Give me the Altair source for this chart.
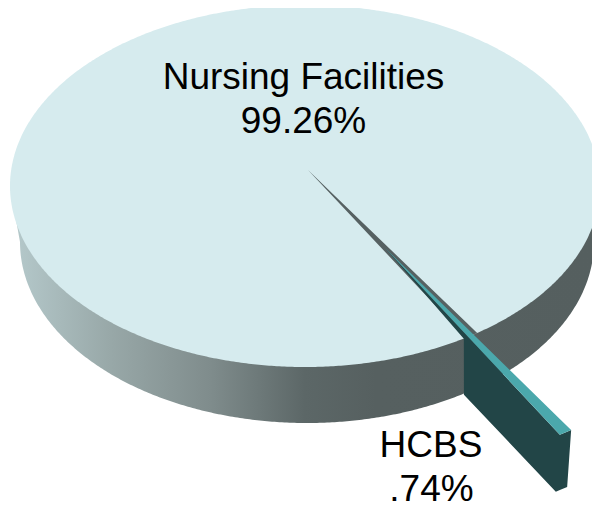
import numpy as np
import pandas as pd
import altair as alt

# --- chart values ---
categories = ["Nursing Facilities", "HCBS"]
shares = [99.26, 0.74]
share_labels = ["99.26%", ".74%"]

# --- drawing frame: data units are page pixels of the 3-D pie ---
TOP = dict(cx=305.0, cy=186.0, rx=295.0, ry=181.0)      # upper face
BASE = dict(cx=307.0, cy=242.0, rx=287.0, ry=181.0)     # lower rim
APEX = (308.0, 170.0)
START_DEG = 54.3                                        # where the small slice begins on the rim
EXPLODE = (94.0, 97.0)
WEDGE_TIP = (385.0, 248.0)
DEPTH = (-4.0, 57.0)

X_SCALE = alt.Scale(domain=[8, 592], nice=False, zero=False)
Y_SCALE = alt.Scale(domain=[505, 8], nice=False, zero=False)


def rim(deg):
    t = np.radians(deg)
    return (TOP["cx"] + TOP["rx"] * np.cos(t), TOP["cy"] + TOP["ry"] * np.sin(t))


def band(upper, lower):
    """Rows x / y / y2 of a filled shape between two x-ordered outlines."""
    ux, uy = zip(*upper)
    lx, ly = zip(*lower)
    xs = sorted(set(ux) | set(lx))
    return pd.DataFrame({"x": xs, "y": np.interp(xs, ux, uy), "y2": np.interp(xs, lx, ly)})


def area(df, fill):
    return alt.Chart(df).mark_area(fill=fill, strokeWidth=0, opacity=1).encode(
        x=alt.X("x:Q", scale=X_SCALE, axis=None),
        y=alt.Y("y:Q", scale=Y_SCALE, axis=None),
        y2="y2:Q",
    )


# pie wall
tt = np.radians(np.linspace(0, 180, 361))
base_x = BASE["cx"] + BASE["rx"] * np.cos(tt)
base_y = BASE["cy"] + BASE["ry"] * np.sin(tt)
outline = sorted(
    [(TOP["cx"] - TOP["rx"], TOP["cy"])]
    + list(zip(base_x, base_y))
    + [(TOP["cx"] + TOP["rx"], TOP["cy"])]
)
wall_df = band([(outline[0][0], TOP["cy"]), (outline[-1][0], TOP["cy"])], outline)
wall_fill = alt.Gradient(
    gradient="linear", x1=0, y1=0, x2=1, y2=0,
    stops=[
        alt.GradientStop(offset=0.0, color="#b6cacc"),
        alt.GradientStop(offset=0.17, color="#98a8a8"),
        alt.GradientStop(offset=0.34, color="#7f8c8c"),
        alt.GradientStop(offset=0.50, color="#5c6767"),
        alt.GradientStop(offset=0.62, color="#566060"),
        alt.GradientStop(offset=1.0, color="#555f5f"),
    ],
)

# pie upper face
top_x = TOP["cx"] + TOP["rx"] * np.cos(tt)
top_df = pd.DataFrame({
    "x": top_x,
    "y": TOP["cy"] - TOP["ry"] * np.sin(tt),
    "y2": TOP["cy"] + TOP["ry"] * np.sin(tt),
})

# small slice, its size taken from the share
sweep = shares[1] / sum(shares) * 360.0
rim_a = rim(START_DEG)
rim_b = rim(START_DEG + sweep)
gap_df = band([APEX, rim_a], [APEX, rim_b, rim_a])

out_a = (rim_a[0] + EXPLODE[0], rim_a[1] + EXPLODE[1])
out_b = (rim_b[0] + EXPLODE[0], rim_b[1] + EXPLODE[1])
teal_df = band([WEDGE_TIP, out_a], [WEDGE_TIP, out_b, out_a])

low_a = (out_a[0] + DEPTH[0], out_a[1] + DEPTH[1])
low_b = (out_b[0] + DEPTH[0], out_b[1] + DEPTH[1])
side_df = band(
    [WEDGE_TIP, out_b, out_a],
    [WEDGE_TIP, (rim_b[0] - 2, rim_b[1] + 1),
     (rim_b[0] - 1.9, rim_b[1] + DEPTH[1]), low_b, low_a, out_a],
)

# labels
label_df = pd.DataFrame({
    "x": [303.5, 303.5, 431.0, 431.5],
    "y": [89.0, 133.0, 457.0, 501.0],
    "text": [categories[0], share_labels[0], categories[1], share_labels[1]],
})
labels = alt.Chart(label_df).mark_text(
    font="Liberation Sans", fontSize=37, color="#000000", align="center", baseline="alphabetic"
).encode(
    x=alt.X("x:Q", scale=X_SCALE, axis=None),
    y=alt.Y("y:Q", scale=Y_SCALE, axis=None),
    text="text:N",
)

chart = alt.layer(
    area(wall_df, wall_fill),
    area(top_df, "#d6ebee"),
    area(gap_df, "#566162"),
    area(side_df, "#224547"),
    area(teal_df, "#4ba8ac"),
    labels,
).properties(
    width=584, height=497, padding=0, background="#ffffff",
    autosize=alt.AutoSizeParams(type="none"),
).configure_view(stroke=None)

chart.save("out.html", embed_options={"renderer": "svg", "actions": False})
